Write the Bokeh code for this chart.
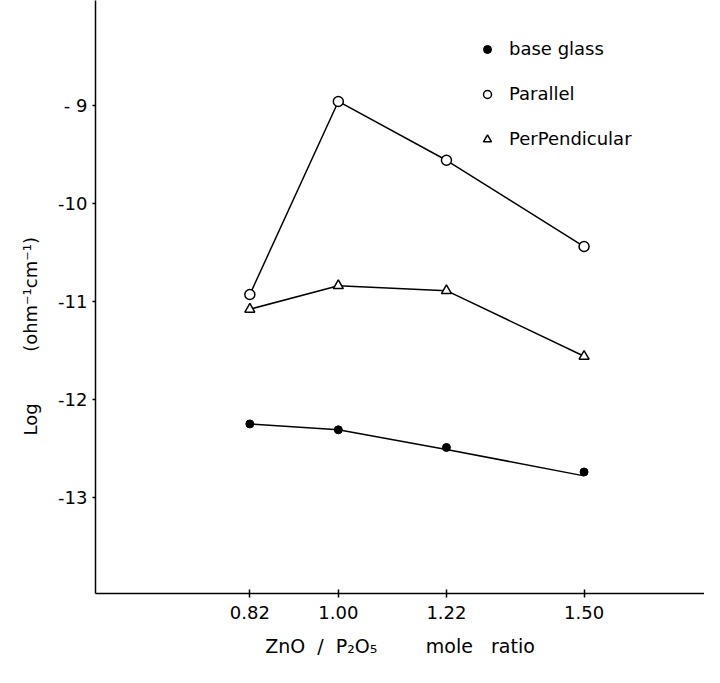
import math
from bokeh.plotting import figure
from bokeh.models import Range1d, FixedTicker, Legend, LegendItem, Title
from bokeh.embed import file_html
from bokeh.resources import INLINE

# ---- data ----
ratio = [0.82, 1.00, 1.22, 1.50]
base_glass = [-12.25, -12.31, -12.49, -12.74]
base_glass_fit = [-12.25, -12.31, -12.51, -12.78]
parallel = [-10.93, -8.96, -9.56, -10.44]
perpendicular = [-11.08, -10.84, -10.89, -11.56]

x_ticks = [0.82, 1.00, 1.22, 1.50]
x_tick_labels = ["0.82", "1.00", "1.22", "1.50"]
y_ticks = [-13, -12, -11, -10, -9]
y_tick_labels = ["-13", "-12", "-11", "-10", "- 9"]

FONT = "DejaVu Sans"
NB = "\u00a0"

p = figure(width=704, height=667,
           x_range=Range1d(0.506, 1.745), y_range=Range1d(-13.98, -7.93),
           output_backend="svg", toolbar_location=None,
           min_border_left=95, min_border_right=0,
           min_border_top=0, min_border_bottom=74)
p.grid.visible = False
p.outline_line_color = None
p.background_fill_color = "white"
p.border_fill_color = "white"

# lines
p.line(ratio, base_glass_fit, line_color="black", line_width=1.5)
p.line(ratio, parallel, line_color="black", line_width=1.5)
p.line(ratio, perpendicular, line_color="black", line_width=1.5)

# markers
r_base = p.scatter(ratio, base_glass, marker="circle", size=8,
                   fill_color="black", line_color="black")
r_par = p.scatter(ratio, parallel, marker="circle", size=10,
                  fill_color="white", line_color="black", line_width=1.5)
r_perp = p.scatter(ratio, perpendicular, marker="triangle", size=10,
                   fill_color="white", line_color="black", line_width=1.5)

# axes
xa = p.xaxis[0]
xa.ticker = FixedTicker(ticks=x_ticks)
xa.major_label_overrides = dict(zip(x_ticks, x_tick_labels))
xa.major_tick_in = 4
xa.major_tick_out = 4
xa.minor_tick_line_color = None
xa.axis_line_width = 1.5
xa.major_tick_line_width = 1.5
xa.major_label_standoff = 8
xa.major_label_text_font = FONT
xa.major_label_text_font_size = "18px"
xa.major_label_text_color = "black"
xa.axis_label = ("ZnO" + NB * 2 + "/" + NB * 2 + "P\u2082O\u2085" + NB * 8
                 + "mole" + NB * 3 + "ratio")
xa.axis_label_text_font = FONT
xa.axis_label_text_font_size = "19px"
xa.axis_label_text_font_style = "normal"
xa.axis_label_text_color = "black"
xa.axis_label_standoff = 13

ya = p.yaxis[0]
ya.ticker = FixedTicker(ticks=y_ticks)
ya.major_label_overrides = dict(zip(y_ticks, y_tick_labels))
ya.major_tick_in = 0
ya.major_tick_out = 3
ya.minor_tick_line_color = None
ya.axis_line_width = 1.5
ya.major_tick_line_width = 1.5
ya.major_label_standoff = 5
ya.major_label_text_font = FONT
ya.major_label_text_font_size = "18px"
ya.major_label_text_color = "black"

# y-axis title as a left-side title, positioned along the axis with offset
ytitle = Title(text="Log" + NB * 9 + "(ohm\u207b\u00b9cm\u207b\u00b9)",
               align="left", offset=158, standoff=30,
               text_font=FONT, text_font_size="18px",
               text_font_style="normal", text_color="black")
p.add_layout(ytitle, "left")

legend = Legend(items=[LegendItem(label="base glass", renderers=[r_base]),
                       LegendItem(label="Parallel", renderers=[r_par]),
                       LegendItem(label="PerPendicular", renderers=[r_perp])],
                location=(382, 444), border_line_color=None,
                background_fill_alpha=0, padding=5, spacing=24,
                label_height=20, glyph_height=20, glyph_width=20,
                label_standoff=12, label_text_font=FONT,
                label_text_font_size="18px", label_text_color="black",
                margin=0)
p.add_layout(legend)

open("out.html", "w").write(file_html(p, INLINE))
